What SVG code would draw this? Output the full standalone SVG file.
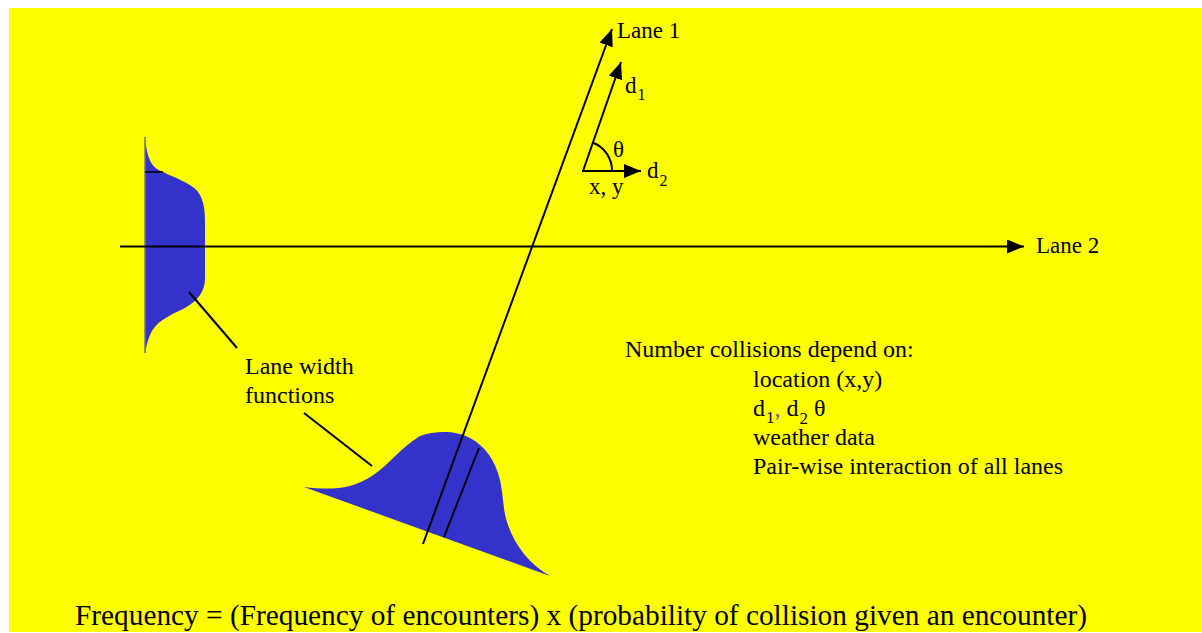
<svg xmlns="http://www.w3.org/2000/svg" width="1202" height="633" viewBox="0 0 1202 633">
<style>
.t{font-family:"Liberation Serif","Times New Roman",serif;fill:#000}
.ln{stroke:#000;stroke-width:2;fill:none}
.bell{fill:#3333CC}
</style>
<defs>
<marker id="ah" markerUnits="userSpaceOnUse" markerWidth="18" markerHeight="14" refX="17" refY="7" orient="auto">
<path d="M0,0 L17,7 L0,14 Z" fill="#000"/>
</marker>
</defs>
<rect x="9" y="8" width="1193" height="624" fill="#FFFF00"/>
<g id="lane-width-left">
<path class="bell" d="M145,137 C147,160 152,168 163,172 C180,180 195,185 200,195 C205,205 205,215 205,225 L205,278 C205,292 198,300 185,308 C168,316 155,322 150,335 C147,342 146,348 145,353 Z"/>
<line x1="145" y1="137" x2="145" y2="353" stroke="#777" stroke-width="1.5"/>
<line x1="145" y1="172" x2="163" y2="172" stroke="#000" stroke-width="1.5"/>
</g>
<g id="lane-width-bottom">
<path class="bell" d="M304,487 C330,490 350,490 372,476 C390,464 400,448 420,436 C435,431 455,430 470,438 C485,446 495,460 500,480 C504,500 503,510 507,522 C514,545 530,565 550,576 Z"/>
<line x1="444" y1="537" x2="479" y2="448" stroke="#000" stroke-width="2"/>
</g>
<g id="connectors">
<line class="ln" x1="423" y1="544" x2="612" y2="29" marker-end="url(#ah)"/>
<line class="ln" x1="120" y1="246.5" x2="1024" y2="246.5" marker-end="url(#ah)"/>
<line class="ln" x1="583" y1="171" x2="621" y2="62" marker-end="url(#ah)"/>
<line class="ln" x1="582" y1="171" x2="641" y2="171" marker-end="url(#ah)"/>
<path class="ln" d="M612,171 A30,30 0 0 0 592.5,142.5"/>
<line class="ln" x1="189" y1="292" x2="237" y2="348"/>
<line class="ln" x1="304" y1="413" x2="372" y2="466"/>
</g>
<g id="labels">
<text class="t" x="617" y="38" font-size="23">Lane 1</text>
<text class="t" x="1036" y="253" font-size="23">Lane 2</text>
<text class="t" x="625" y="93" font-size="23">d<tspan font-size="16" dx="1" dy="7">1</tspan></text>
<text class="t" x="613" y="157" font-size="23">θ</text>
<text class="t" x="647" y="178" font-size="23">d<tspan font-size="16" dx="1" dy="8">2</tspan></text>
<text class="t" x="589" y="194" font-size="23">x, y</text>
<text class="t" x="245" y="374" font-size="24">Lane width</text>
<text class="t" x="245" y="403" font-size="24">functions</text>
</g>
<g id="notes">
<text class="t" x="625" y="357" font-size="24">Number collisions depend on:</text>
<text class="t" x="753" y="387" font-size="24">location (x,y)</text>
<text class="t" x="753" y="416" font-size="24">d<tspan font-size="17" dx="1" dy="7">1</tspan><tspan fill="#666699" dy="-7">,</tspan> d<tspan font-size="17" dx="1" dy="8">2</tspan><tspan dy="-8"> θ</tspan></text>
<text class="t" x="753" y="445" font-size="24">weather data</text>
<text class="t" x="753" y="474" font-size="24">Pair-wise interaction of all lanes</text>
<text class="t" x="75" y="625" font-size="29" textLength="1012" lengthAdjust="spacingAndGlyphs">Frequency = (Frequency of encounters) x (probability of collision given an encounter)</text>
</g>
</svg>
